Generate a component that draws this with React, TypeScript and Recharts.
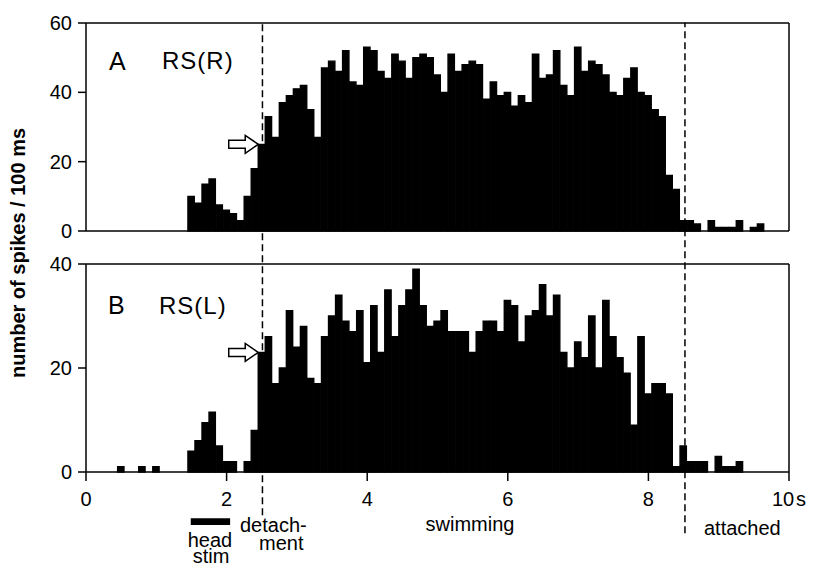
import React from "react";
import { BarChart, Bar, XAxis, YAxis, ReferenceLine, ReferenceDot, ReferenceArea } from "recharts";

// spike counts per 100 ms bin, bins centred on 0.0, 0.1, ... 9.9 s
const countsA = [
  0, 0, 0, 0, 0, 0, 0, 0, 0, 0, 0, 0, 0, 0, 0,
  10, 8, 13.5, 15, 7.5, 6, 5, 3, 10, 18,
  25, 33, 27, 37, 39, 41, 42, 35, 27, 47,
  49, 46, 52, 43, 42, 53, 52, 46, 44, 51,
  49, 44, 50, 51, 50, 45, 40, 51, 46, 48,
  49, 48, 38, 43, 39, 40, 36, 39, 37, 51,
  44, 45, 52, 42, 39, 53, 46, 49, 48, 45,
  40, 39, 44, 47, 40, 39, 35, 33, 16, 12,
  3, 3, 2, 0, 3, 1, 1, 1, 3, 0,
  1, 2, 0, 0, 0,
];
const countsB = [
  0, 0, 0, 0, 0, 1, 0, 0, 1, 0, 1, 0, 0, 0, 0,
  4, 6, 9.5, 11.5, 5, 2, 2, 0, 2, 8,
  23, 26, 17, 20, 31, 24, 28, 18, 17, 26,
  30, 34, 29, 27, 31, 21, 32, 23, 35, 26,
  32, 35, 39, 32, 28, 29, 31, 27, 27, 27,
  23, 27, 29, 29, 27, 33, 32, 25, 30, 31,
  36, 30, 34, 23, 20, 25, 22, 30, 20, 33,
  26, 22, 19, 9, 26, 15, 17, 17, 15, 1,
  5, 2, 2, 2, 0, 3, 1, 1, 2, 0,
  0, 0, 0, 0, 0,
];
const binTimes = countsA.map((_, i) => i / 10);
const xTicks = [0, 2, 4, 6, 8, 10];
const yTicksA = [0, 20, 40, 60];
const yTicksB = [0, 20, 40];
const detachTime = 2.51;
const attachTime = 8.52;
const stimStart = 1.49;
const stimEnd = 2.05;

const dataA = binTimes.map((t, i) => ({ t, v: countsA[i] }));
const dataB = binTimes.map((t, i) => ({ t, v: countsB[i] }));

const FONT = "'Liberation Sans', Arial, Helvetica, sans-serif";
const W = 813;
const PLOT_W = 703;
const BAR_W = PLOT_W / countsA.length;

const axisStyle = { stroke: "#000", strokeWidth: 1.5 };
const tickStyle = { fill: "#000", fontSize: 20, fontFamily: FONT };

const Arrow = (props: any) => {
  const { cx, cy } = props;
  if (cx == null || cy == null) return null;
  const d = `M${cx - 29.5},${cy - 4} L${cx - 13},${cy - 4} L${cx - 13},${cy - 9} L${cx},${cy} L${cx - 13},${cy + 9} L${cx - 13},${cy + 4} L${cx - 29.5},${cy + 4} Z`;
  return <path d={d} fill="#fff" stroke="#000" strokeWidth={1.5} strokeLinejoin="miter" />;
};

const XTick = (props: any) => {
  const { x, y, payload } = props;
  if (payload.value === 10) {
    return (
      <g>
        <text x={x - 6} y={y} dy="0.71em" textAnchor="middle" fill="#000" fontSize={20} fontFamily={FONT}>10</text>
        <text x={x + 7} y={y} dy="0.71em" textAnchor="start" fill="#000" fontSize={20} fontFamily={FONT}>s</text>
      </g>
    );
  }
  return (
    <text x={x} y={y} dy="0.71em" textAnchor="middle" fill="#000" fontSize={20} fontFamily={FONT}>
      {payload.value}
    </text>
  );
};

export default function App() {
  return (
    <div style={{ position: "absolute", left: 0, top: 0, width: W, height: 564, background: "#fff", overflow: "hidden" }}>
      {/* Panel B (also carries the full-height dashed markers) */}
      <div style={{ position: "absolute", left: 0, top: 0 }}>
        <BarChart width={W} height={564} data={dataB} margin={{ top: 264, right: 24, bottom: 0, left: 0 }} barCategoryGap={0} barGap={0}>
          <XAxis
            type="number"
            dataKey="t"
            domain={[0, 10]}
            ticks={xTicks}
            height={92}
            tickSize={9}
            tickMargin={11}
            axisLine={axisStyle}
            tickLine={axisStyle}
            tick={<XTick />}
            interval={0}
          />
          <YAxis
            type="number"
            domain={[0, 40]}
            ticks={yTicksB}
            width={86}
            tickSize={8}
            tickMargin={6}
            axisLine={axisStyle}
            tickLine={axisStyle}
            tick={tickStyle}
            interval={0}
          />
          <Bar dataKey="v" fill="#000" stroke="#000" strokeWidth={1.4} barSize={BAR_W} isAnimationActive={false} />
          <ReferenceLine y={40} stroke="#000" strokeWidth={1.5} />
          <ReferenceLine x={10} stroke="#000" strokeWidth={1.5} />
          <ReferenceLine
            segment={[{ x: detachTime, y: -8.3 }, { x: detachTime, y: 86.4 }]}
            stroke="#000"
            strokeWidth={1.5}
            strokeDasharray="7 4"
            ifOverflow="visible"
          />
          <ReferenceLine
            segment={[{ x: attachTime, y: -11.8 }, { x: attachTime, y: 86.4 }]}
            stroke="#000"
            strokeWidth={1.5}
            strokeDasharray="7 4"
            ifOverflow="visible"
          />
          <ReferenceArea x1={stimStart} x2={stimEnd} y1={-10.2} y2={-8.9} fill="#000" fillOpacity={1} stroke="none" ifOverflow="visible" />
          <ReferenceDot x={2.45} y={23} r={1} shape={Arrow} ifOverflow="visible" />
        </BarChart>
      </div>

      {/* Panel A */}
      <div style={{ position: "absolute", left: 0, top: 0 }}>
        <BarChart width={W} height={250} data={dataA} margin={{ top: 23, right: 24, bottom: 10, left: 0 }} barCategoryGap={0} barGap={0}>
          <XAxis
            type="number"
            dataKey="t"
            domain={[0, 10]}
            ticks={xTicks}
            height={9}
            axisLine={axisStyle}
            tickLine={false}
            tick={false}
          />
          <YAxis
            type="number"
            domain={[0, 60]}
            ticks={yTicksA}
            width={86}
            tickSize={8}
            tickMargin={6}
            axisLine={axisStyle}
            tickLine={axisStyle}
            tick={tickStyle}
            interval={0}
          />
          <Bar dataKey="v" fill="#000" stroke="#000" strokeWidth={1.4} barSize={BAR_W} isAnimationActive={false} />
          <ReferenceLine y={60} stroke="#000" strokeWidth={1.5} />
          <ReferenceLine x={10} stroke="#000" strokeWidth={1.5} />
          <ReferenceDot x={2.45} y={25} r={1} shape={Arrow} ifOverflow="visible" />
        </BarChart>
      </div>

      {/* Text annotations */}
      <svg width={W} height={564} style={{ position: "absolute", left: 0, top: 0, pointerEvents: "none" }} fontFamily={FONT}>
        <text x={109} y={70} fontSize={25} fill="#000">A</text>
        <text x={162} y={68.5} fontSize={24} letterSpacing={1} fill="#000">RS(R)</text>
        <text x={108} y={314} fontSize={25} fill="#000">B</text>
        <text x={159} y={313.5} fontSize={24} letterSpacing={1} fill="#000">RS(L)</text>
        <text
          x={25}
          y={253}
          fontSize={20}
          fontWeight="bold"
          textAnchor="middle"
          transform="rotate(-90 25 253)"
          fill="#000"
        >
          number of spikes / 100 ms
        </text>
        <text fontSize={20} fill="#000" textAnchor="middle">
          <tspan x={210} y={546.5}>head</tspan>
          <tspan x={211} y={562.5}>stim</tspan>
        </text>
        <text fontSize={20} fill="#000">
          <tspan x={240} y={531.5}>detach-</tspan>
          <tspan x={259} y={549.5}>ment</tspan>
        </text>
        <text x={470} y={531} fontSize={20} textAnchor="middle" fill="#000">swimming</text>
        <text x={704} y={535} fontSize={20} fill="#000">attached</text>
      </svg>
    </div>
  );
}
